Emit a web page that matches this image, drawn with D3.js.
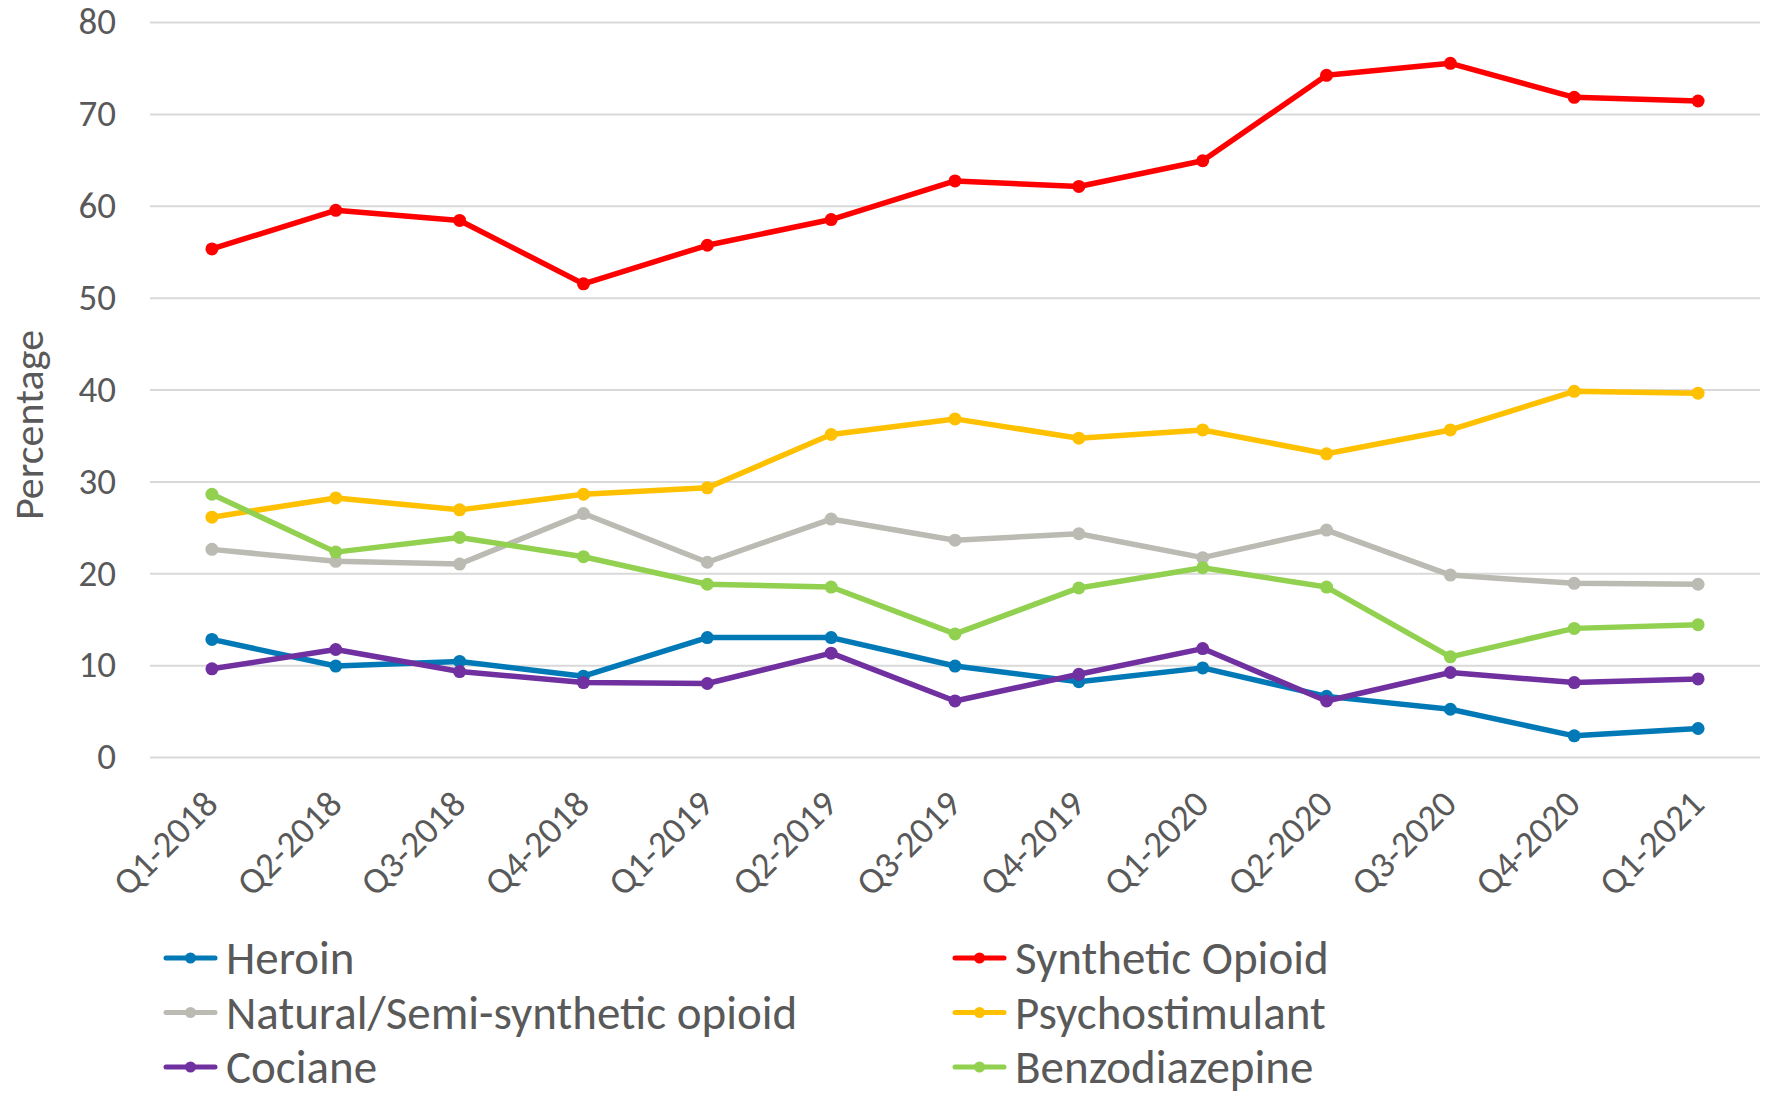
<!DOCTYPE html>
<html>
<head>
<meta charset="utf-8">
<script src="https://cdn.jsdelivr.net/npm/d3@7.9.0/dist/d3.min.js"></script>
<style>
  body { margin: 0; background: #fff; }
  svg { display: block; font-family: Carlito, Lato, 'Liberation Sans', sans-serif; }
</style>
</head>
<body>
<svg id="chart" width="1769" height="1094"></svg>
<script>
const quarters = ['Q1-2018', 'Q2-2018', 'Q3-2018', 'Q4-2018', 'Q1-2019', 'Q2-2019', 'Q3-2019',
  'Q4-2019', 'Q1-2020', 'Q2-2020', 'Q3-2020', 'Q4-2020', 'Q1-2021'];

const heroin = [12.8, 9.9, 10.4, 8.8, 13.0, 13.0, 9.9, 8.2, 9.7, 6.6, 5.2, 2.3, 3.1];
const syntheticOpioid = [55.3, 59.5, 58.4, 51.5, 55.7, 58.5, 62.7, 62.1, 64.9, 74.2, 75.5, 71.8, 71.4];
const naturalOpioid = [22.6, 21.3, 21.0, 26.5, 21.2, 25.9, 23.6, 24.3, 21.7, 24.7, 19.8, 18.9, 18.8];
const psychostimulant = [26.1, 28.2, 26.9, 28.6, 29.3, 35.1, 36.8, 34.7, 35.6, 33.0, 35.6, 39.8, 39.6];
const cociane = [9.6, 11.7, 9.3, 8.1, 8.0, 11.3, 6.1, 9.0, 11.8, 6.1, 9.2, 8.1, 8.5];
const benzodiazepine = [28.6, 22.3, 23.9, 21.8, 18.8, 18.5, 13.4, 18.4, 20.6, 18.5, 10.9, 14.0, 14.4];

const yTicks = [0, 10, 20, 30, 40, 50, 60, 70, 80];

const series = [
  { name: 'Heroin', values: heroin, color: '#0079B6' },
  { name: 'Synthetic Opioid', values: syntheticOpioid, color: '#FF0000' },
  { name: 'Natural/Semi-synthetic opioid', values: naturalOpioid, color: '#BBBBB3' },
  { name: 'Psychostimulant', values: psychostimulant, color: '#FFC000' },
  { name: 'Cociane', values: cociane, color: '#7030A0' },
  { name: 'Benzodiazepine', values: benzodiazepine, color: '#92D050' }
];

const svg = d3.select('#chart');
const textColor = '#595959';
const plotLeft = 150, plotRight = 1760, plotTop = 22, plotBottom = 757;

const x = d3.scalePoint().domain(quarters).range([plotLeft, plotRight]).padding(0.5);
const y = d3.scaleLinear().domain([0, 80]).range([plotBottom, plotTop]);

// gridlines + y labels
const yAxis = svg.append('g')
  .attr('transform', `translate(${plotLeft},0)`)
  .call(d3.axisLeft(y).tickValues(yTicks).tickSize(-(plotRight - plotLeft)).tickPadding(34))
  .attr('font-family', null)
  .attr('font-size', null);
yAxis.select('.domain').remove();
yAxis.selectAll('line').attr('stroke', '#D9D9D9').attr('stroke-width', 2);
yAxis.selectAll('text').attr('fill', textColor).attr('font-size', 37);

// x labels, rotated
svg.append('g').selectAll('text')
  .data(quarters)
  .enter()
  .append('text')
    .attr('transform', d => `translate(${x(d) - 1},797) rotate(-45)`)
    .attr('text-anchor', 'end')
    .attr('dy', '0.35em')
    .attr('fill', textColor)
    .attr('font-size', 37)
    .text(d => d);

// y title
svg.append('text')
  .attr('transform', 'translate(28,425) rotate(-90)')
  .attr('text-anchor', 'middle')
  .attr('dy', '0.35em')
  .attr('fill', textColor)
  .attr('font-size', 42)
  .text('Percentage');

const line = d3.line()
  .x((d, i) => x(quarters[i]))
  .y(d => y(d));

series.forEach(s => {
  const g = svg.append('g');
  g.append('path')
    .attr('d', line(s.values))
    .attr('fill', 'none')
    .attr('stroke', s.color)
    .attr('stroke-width', 5.5)
    .attr('stroke-linejoin', 'round');
  g.selectAll('circle')
    .data(s.values)
    .enter()
    .append('circle')
      .attr('cx', (d, i) => x(quarters[i]))
      .attr('cy', d => y(d))
      .attr('r', 6.5)
      .attr('fill', s.color);
});

// legend, two columns
const legend = svg.append('g');
series.forEach((s, i) => {
  const col = i % 2, row = Math.floor(i / 2);
  const lx = col === 0 ? 166 : 955;
  const ly = 958 + row * 54.5;
  const item = legend.append('g').attr('transform', `translate(${lx},${ly})`);
  item.append('line')
    .attr('x1', 0).attr('x2', 49)
    .attr('stroke', s.color)
    .attr('stroke-width', 5)
    .attr('stroke-linecap', 'round');
  item.append('circle').attr('cx', 24.5).attr('r', 5.5).attr('fill', s.color);
  item.append('text')
    .attr('x', 60)
    .attr('dy', '0.35em')
    .attr('fill', textColor)
    .attr('font-size', 47)
    .text(s.name);
});
</script>
</body>
</html>
